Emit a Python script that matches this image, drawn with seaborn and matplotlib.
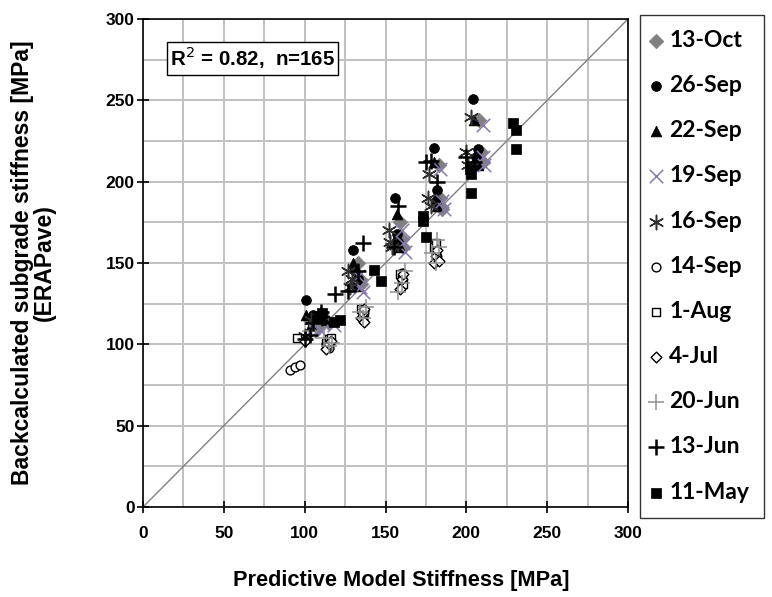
import matplotlib
matplotlib.use("Agg")
import matplotlib.pyplot as plt
import seaborn as sns
import pandas as pd

# ---------------- data ----------------
labels = ["13-Oct", "26-Sep", "22-Sep", "19-Sep", "16-Sep", "14-Sep",
          "1-Aug", "4-Jul", "20-Jun", "13-Jun", "11-May"]

oct13_x = [103, 108, 115, 133, 134, 135, 159, 160, 161, 183, 184, 185, 208, 209, 210]
oct13_y = [115, 110, 113, 150, 140, 137, 175, 165, 160, 210, 190, 183, 238, 218, 212]

sep26_x = [101, 105, 112, 130, 131, 133, 156, 157, 158, 180, 182, 181, 204, 207, 206]
sep26_y = [127, 118, 117, 158, 145, 140, 190, 168, 163, 221, 195, 188, 251, 220, 215]

sep22_x = [101, 104, 113, 130, 131, 132, 157, 156, 159, 180, 181, 182, 205, 206, 207]
sep22_y = [118, 112, 115, 150, 140, 136, 180, 165, 160, 212, 190, 185, 238, 215, 210]

sep19_x = [105, 110, 118, 133, 134, 136, 160, 161, 162, 184, 185, 186, 210, 210, 211]
sep19_y = [110, 108, 112, 142, 135, 132, 170, 162, 157, 208, 188, 183, 235, 215, 210]

sep16_x = [100, 104, 110, 128, 129, 127, 153, 152, 154, 177, 176, 178, 200, 201, 203]
sep16_y = [105, 115, 118, 135, 140, 145, 163, 170, 160, 205, 190, 185, 218, 210, 240]

sep14_x = [91, 94, 97, 113, 114, 115, 136, 137, 136, 160, 160, 160, 181, 181, 182]
sep14_y = [84, 86, 87, 100, 102, 98, 118, 121, 115, 140, 136, 144, 155, 158, 152]

aug1_x = [95, 113, 114, 115, 135, 136, 137, 159, 160, 161, 180, 181, 182, 181, 116]
aug1_y = [104, 101, 99, 103, 122, 118, 120, 143, 140, 137, 160, 157, 153, 162, 104]

jul4_x = [113, 115, 116, 135, 136, 137, 159, 160, 161, 180, 181, 182, 183, 100, 137]
jul4_y = [97, 100, 102, 116, 119, 122, 134, 140, 143, 150, 154, 158, 151, 102, 114]

jun20_x = [103, 112, 115, 117, 134, 136, 138, 158, 160, 162, 179, 181, 183, 182, 110]
jun20_y = [108, 104, 99, 101, 120, 116, 123, 132, 138, 145, 156, 150, 160, 164, 118]

jun13_x = [100, 103, 119, 127, 136, 133, 155, 158, 175, 178, 182, 200, 205, 105, 110]
jun13_y = [103, 106, 131, 133, 162, 145, 160, 185, 212, 213, 200, 215, 212, 113, 120]

may11_x = [108, 111, 118, 122, 143, 147, 173, 173, 175, 202, 203, 203, 229, 231, 231]
may11_y = [116, 119, 114, 115, 146, 139, 179, 176, 166, 208, 205, 193, 236, 232, 220]

xs = [oct13_x, sep26_x, sep22_x, sep19_x, sep16_x, sep14_x,
      aug1_x, jul4_x, jun20_x, jun13_x, may11_x]
ys = [oct13_y, sep26_y, sep22_y, sep19_y, sep16_y, sep14_y,
      aug1_y, jul4_y, jun20_y, jun13_y, may11_y]

# ---------------- styles ----------------
styles = [
    dict(marker="D", color="#808080", s=55, edgecolor="#808080", linewidth=0.5),
    dict(marker="o", color="black", s=50, edgecolor="black", linewidth=0.5),
    dict(marker="^", color="black", s=60, edgecolor="black", linewidth=0.5),
    dict(marker="x", color="#8878b0", s=95, linewidth=1.1),
    dict(marker=(6, 2, 0), color="#303030", s=105, linewidth=1.1),
    dict(marker="o", color="white", s=40, edgecolor="black", linewidth=1.0),
    dict(marker="s", color="white", s=40, edgecolor="black", linewidth=1.0),
    dict(marker="D", color="white", s=30, edgecolor="black", linewidth=1.0),
    dict(marker="+", color="#909090", s=140, linewidth=1.1),
    dict(marker="+", color="black", s=140, linewidth=1.8),
    dict(marker="s", color="black", s=55, edgecolor="black", linewidth=0.5),
]

fig = plt.figure(figsize=(7.72, 5.97), dpi=100)
ax = fig.add_axes([143 / 772, 90 / 597, 485 / 772, 488 / 597])

ax.plot([0, 300], [0, 300], color="#808080", linewidth=1.0, zorder=1)

for lab, x, y, st in zip(labels, xs, ys, styles):
    df = pd.DataFrame({"x": x, "y": y})
    sns.scatterplot(data=df, x="x", y="y", ax=ax, label=lab, zorder=3,
                    legend=False, **st)

ax.set_xlim(0, 300)
ax.set_ylim(0, 300)
ax.set_xticks(range(0, 301, 50))
ax.set_yticks(range(0, 301, 50))
ax.set_xticks(range(0, 301, 25), minor=True)
ax.set_yticks(range(0, 301, 25), minor=True)
ax.grid(True, which="both", color="#c0c0c0", linewidth=1.4, zorder=0)
ax.set_axisbelow(True)
ax.tick_params(which="major", direction="inout", length=8, width=1.2,
               labelsize=12.5)
ax.tick_params(axis="x", which="major", pad=10)
ax.tick_params(axis="y", which="major", pad=2)
ax.tick_params(which="minor", length=0)
for sp in ax.spines.values():
    sp.set_color("black")
    sp.set_linewidth(1.2)
for lab in ax.get_xticklabels() + ax.get_yticklabels():
    lab.set_fontfamily("Liberation Sans")
    lab.set_fontweight("bold")
    lab.set_fontsize(12.5)

ax.set_xlabel("Predictive Model Stiffness [MPa]", fontsize=15.7,
              fontweight="bold", family="Liberation Sans")
ax.xaxis.set_label_coords((401 - 143) / 485, -(570 - 507) / 488)
ax.set_ylabel("Backcalculated subgrade stiffness [MPa]\n(ERAPave)",
              fontsize=16.5, fontweight="bold", family="Liberation Sans",
              linespacing=0.95)
ax.yaxis.set_label_coords(-(143 - 56) / 485, 0.5)

ax.text(0.056, 0.947, r"R$^{2}$ = 0.82,  n=165", transform=ax.transAxes,
        fontsize=14.8, fontweight="bold", family="Liberation Sans",
        va="top", ha="left",
        bbox=dict(boxstyle="square,pad=0.15", facecolor="white",
                  edgecolor="black", linewidth=1.0), zorder=5)

handles, hlabels = ax.get_legend_handles_labels()
leg = fig.legend(handles, hlabels, loc="upper left",
                 bbox_to_anchor=(640 / 772, 582 / 597),
                 frameon=True, fancybox=False, edgecolor="black",
                 borderaxespad=0, labelspacing=1.055, handletextpad=0.52,
                 handlelength=0.1, borderpad=0.65,
                 prop=dict(family="Lato", weight="bold", size=16.5))
leg.get_frame().set_linewidth(1.0)

fig.savefig("out.png", dpi=100)
